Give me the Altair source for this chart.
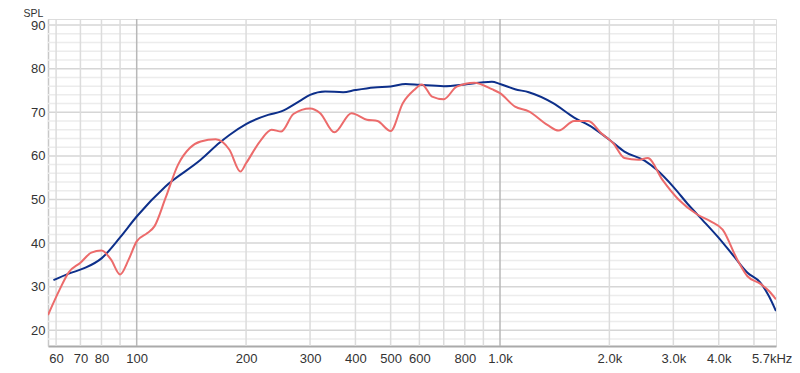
import altair as alt
import pandas as pd

# Blue curve (frequency in Hz, SPL in dB)
blue_freq = [59, 65, 72, 80, 90, 100, 120, 150, 169, 180, 200, 230, 250, 280, 300, 330, 370, 400, 450,
             500, 550, 600, 700, 800, 900, 950, 1000, 1100, 1200, 1400, 1600, 1800, 2000, 2200, 2500,
             2700, 3000, 3300, 3600, 4000, 4400, 4800, 5200, 5500, 5750]
blue_spl = [31.5, 33.0, 34.3, 36.5, 41.3, 46.1, 53.0, 59.1, 63.0, 64.8, 67.3, 69.4, 70.2, 72.5, 74.0,
            74.8, 74.6, 75.1, 75.7, 75.9, 76.5, 76.3, 76.0, 76.4, 76.9, 77.0, 76.5, 75.3, 74.6, 72.1,
            68.8, 66.5, 63.7, 61.0, 58.9, 56.8, 52.9, 48.8, 45.4, 41.2, 37.0, 33.2, 31.0, 27.8, 24.4]

# Red curve
red_freq = [57, 61.4, 65, 70, 75, 80, 85, 90, 95, 100, 107, 112, 120, 130, 140, 150, 165, 180, 193,
            200, 220, 235, 250, 270, 300, 320, 350, 390, 430, 460, 500, 540, 580, 610, 650, 700, 760,
            850, 950, 1000, 1100, 1200, 1350, 1450, 1600, 1750, 1900, 2050, 2200, 2400, 2550, 2800,
            3100, 3500, 3800, 4100, 4500, 4800, 5200, 5500, 5750]
red_spl = [23.5, 29.4, 33.3, 35.5, 37.8, 38.3, 36.2, 32.8, 36.2, 40.4, 42.3, 43.9, 50.3, 58.0, 61.8,
           63.3, 63.8, 61.4, 56.4, 58.3, 63.7, 66.0, 65.6, 69.6, 70.9, 69.8, 65.4, 69.8, 68.3, 68.0,
           65.7, 72.1, 75.1, 76.4, 73.6, 73.0, 75.9, 76.8, 75.3, 74.4, 71.3, 70.2, 67.1, 65.8, 68.0,
           68.0, 65.2, 62.9, 59.5, 59.1, 59.5, 54.5, 50.0, 46.5, 45.0, 43.1, 36.2, 32.4, 30.7, 29.0,
           27.1]

# Axis labels and grid
x_label_values = [60, 70, 80, 100, 200, 300, 400, 500, 600, 800, 1000, 2000, 3000, 4000, 5700]
x_label_texts = ["60", "70", "80", "100", "200", "300", "400", "500", "600", "800", "1.0k",
                 "2.0k", "3.0k", "4.0k", "5.7kHz"]
x_grid_minor = [60, 70, 80, 90, 200, 300, 400, 500, 600, 700, 800, 900, 2000, 3000, 4000, 5000]
x_grid_major = [100, 1000]
y_grid_major = [20, 30, 40, 50, 60, 70, 80, 90]
y_grid_minor = [18, 22, 24, 26, 28, 32, 34, 36, 38, 42, 44, 46, 48, 52, 54, 56, 58, 62, 64, 66, 68,
                72, 74, 76, 78, 82, 84, 86, 88]

X_DOMAIN = [57, 5750]
Y_DOMAIN = [16.4, 91.4]

label_map = "{" + ",".join(f"'{v}':'{t}'" for v, t in zip(x_label_values, x_label_texts)) + "}"

xscale = alt.Scale(type="log", domain=X_DOMAIN, nice=False)
yscale = alt.Scale(domain=Y_DOMAIN, nice=False, zero=False)

df_blue = pd.DataFrame({"f": blue_freq, "spl": blue_spl})
df_red = pd.DataFrame({"f": red_freq, "spl": red_spl})

xgm = alt.Chart(pd.DataFrame({"f": x_grid_minor})).mark_rule(color="#dcdcdc", strokeWidth=1.5).encode(
    x=alt.X("f:Q", scale=xscale))
xgM = alt.Chart(pd.DataFrame({"f": x_grid_major})).mark_rule(color="#b8b8b8", strokeWidth=1.5).encode(
    x=alt.X("f:Q", scale=xscale))
ygm = alt.Chart(pd.DataFrame({"v": y_grid_minor})).mark_rule(color="#ececec", strokeWidth=1.5).encode(
    y=alt.Y("v:Q", scale=yscale))
ygM = alt.Chart(pd.DataFrame({"v": y_grid_major})).mark_rule(color="#d6d6d6", strokeWidth=1.5).encode(
    y=alt.Y("v:Q", scale=yscale))

xaxis = alt.Axis(values=x_label_values, labelExpr=f"{label_map}[''+datum.value]", grid=False,
                 tickSize=0, labelPadding=6, labelFontSize=13, labelColor="#333333",
                 labelFont="Liberation Sans", domainColor="#aaaaaa", domainWidth=2, title=None,
                 labelFlush=False, labelOverlap=False,
                 labelOffset={"condition": {"test": "datum.value == 5700", "value": -3}, "value": 0})
yaxis = alt.Axis(values=y_grid_major, grid=False, tickSize=0, labelPadding=3, labelFontSize=13,
                 labelColor="#333333", labelFont="Liberation Sans", domainColor="#c8c8c8",
                 domainWidth=1.5, title="SPL", titleAngle=0, titleAlign="left",
                 titleBaseline="top", titleX=-25, titleY=-10.5, titleFontSize=10.5,
                 titleFontWeight="normal", titleFont="Liberation Sans", titleColor="#333333")

blue = alt.Chart(df_blue).mark_line(color="#0d2f8a", strokeWidth=2, interpolate="monotone", clip=True).encode(
    x=alt.X("f:Q", scale=xscale, axis=xaxis),
    y=alt.Y("spl:Q", scale=yscale, axis=yaxis))
red = alt.Chart(df_red).mark_line(color="#ec6b6b", strokeWidth=2, interpolate="monotone", clip=True).encode(
    x=alt.X("f:Q", scale=xscale),
    y=alt.Y("spl:Q", scale=yscale))

chart = alt.layer(ygm, ygM, xgm, xgM, blue, red).properties(
    width=728, height=327,
    autosize=alt.AutoSizeParams(type="none"),
    padding={"left": 40, "top": 11, "right": 16, "bottom": 19},
).configure_view(stroke="#c8c8c8", strokeWidth=1.5).configure(background="white")

chart.save("out.html", embed_options={"renderer": "svg", "actions": False})
